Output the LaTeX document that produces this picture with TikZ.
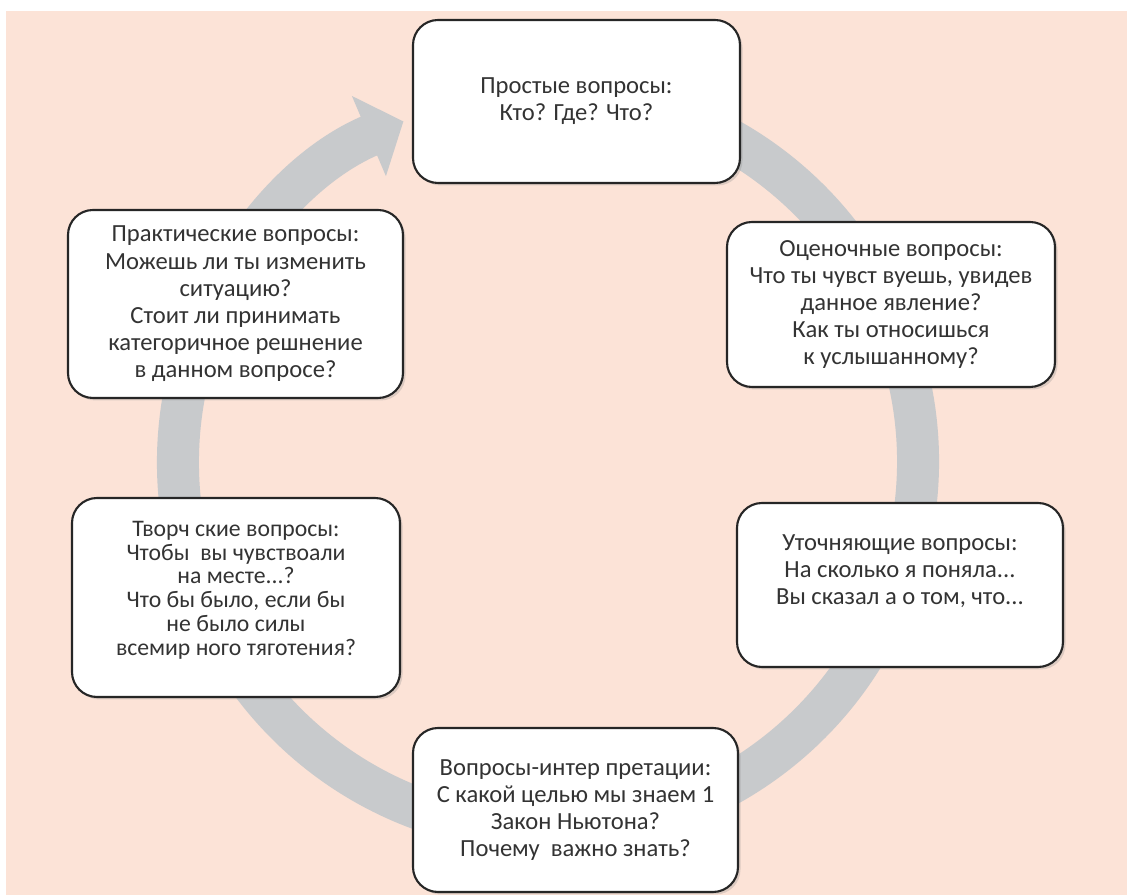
\documentclass[tikz,border=0pt]{standalone}
\usepackage{fontspec}
\setmainfont{Carlito}
\usetikzlibrary{arrows.meta,shadows}
\definecolor{peach}{RGB}{252,227,215}
\definecolor{ringgray}{RGB}{200,202,204}
\tikzset{
  qbox/.style={draw=black!85, line width=1.2pt, rounded corners=0.5cm, fill=white,
    drop shadow={opacity=0.25, shadow xshift=0.05cm, shadow yshift=-0.05cm}},
  qtext/.style={align=center, text=black!80, font=\fontsize{14}{15.5}\selectfont},
  ring/.style={ringgray, line width=0.84cm, -{Triangle[width=1.7cm,length=0.75cm]}}
}
\begin{document}
\begin{tikzpicture}
  \useasboundingbox (0,0) rectangle (22.54,17.9);
  \fill[peach] (0.12,0) rectangle (22.54,17.68);

  % cycle arrow behind the boxes
  \coordinate (ctr) at (10.96,8.66);
  \draw[ring] (ctr) ++(80:7.4) arc[start angle=80, end angle=-247, radius=7.4];

  % simple questions
  \node[qbox, minimum width=6.54cm, minimum height=3.26cm] (simple) at (11.53,15.87) {};
  \node[qtext] at (simple.center) {Простые вопросы:\\Кто? Где? Что?};

  % rating questions
  \node[qbox, minimum width=6.56cm, minimum height=3.3cm] (rating) at (17.82,11.81) {};
  \node[qtext] at (rating.center) {Оценочные вопросы:\\Что ты чувст вуешь, увидев\\данное явление?\\Как ты относишься\\к услышанному?};

  % clarifying questions
  \node[qbox, minimum width=6.52cm, minimum height=3.28cm] (clarify) at (18.0,6.2) {};
  \node[qtext, yshift=0.28cm] at (clarify.center) {Уточняющие вопросы:\\На сколько я поняла...\\Вы сказал а о том, что...};

  % interpretation questions
  \node[qbox, minimum width=6.5cm, minimum height=3.28cm] (interp) at (11.51,1.7) {};
  \node[qtext] at (interp.center) {Вопросы-интер претации:\\С какой целью мы знаем 1\\Закон Ньютона?\\Почему\ \ важно знать?};

  % creative questions
  \node[qbox, minimum width=6.56cm, minimum height=3.98cm] (creative) at (4.72,5.95) {};
  \node[qtext, yshift=0.15cm, font=\fontsize{13.5}{13.5}\selectfont] at (creative.center) {Творч ские вопросы:\\Чтобы\ \ вы чувствоали\\на месте...?\\Что бы было, если бы\\не было силы\\всемир ного тяготения?};

  % practical questions
  \node[qbox, minimum width=6.7cm, minimum height=3.76cm] (practical) at (4.71,11.82) {};
  \node[qtext] at (practical.center) {Практические вопросы:\\Можешь ли ты изменить\\ситуацию?\\Стоит ли принимать\\категоричное решнение\\в данном вопросе?};
\end{tikzpicture}
\end{document}
